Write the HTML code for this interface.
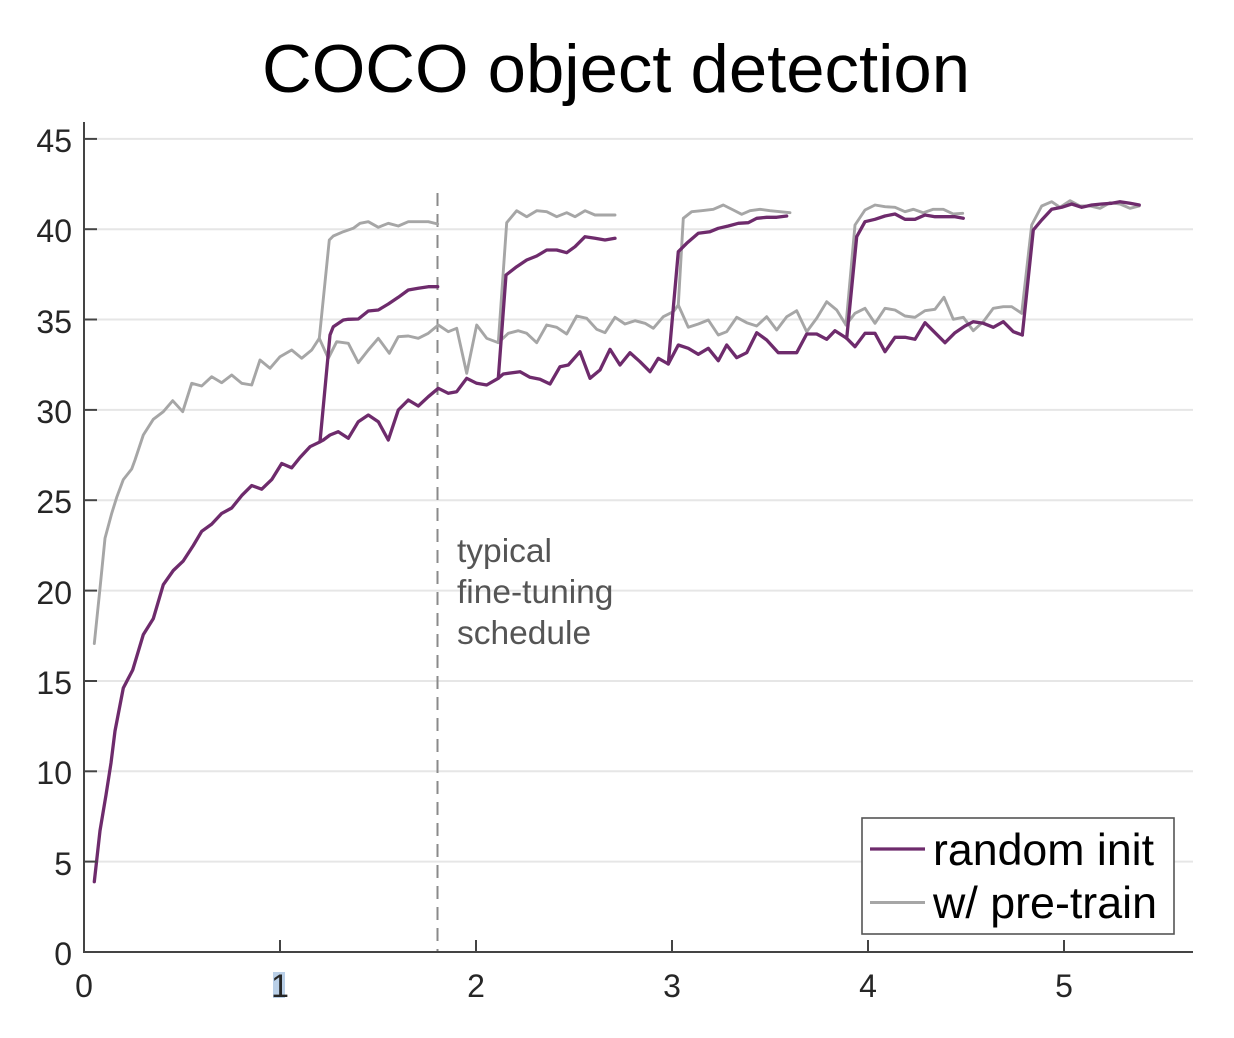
<!DOCTYPE html>
<html><head><meta charset="utf-8"><style>
html,body{margin:0;padding:0;background:#fff;}
svg{display:block;}
</style></head><body>
<svg width="1234" height="1038" viewBox="0 0 1234 1038" xmlns="http://www.w3.org/2000/svg" font-family="'Liberation Sans', Arial, sans-serif">
<rect width="1234" height="1038" fill="#fff"/>
<text x="616" y="92" font-size="68" text-anchor="middle" textLength="708" lengthAdjust="spacingAndGlyphs" fill="#000">COCO object detection</text>
<g stroke="#e6e6e6" stroke-width="2">
<line x1="97" y1="861.6" x2="1193" y2="861.6"/>
<line x1="97" y1="771.3" x2="1193" y2="771.3"/>
<line x1="97" y1="681" x2="1193" y2="681"/>
<line x1="97" y1="590.6" x2="1193" y2="590.6"/>
<line x1="97" y1="500.2" x2="1193" y2="500.2"/>
<line x1="97" y1="409.9" x2="1193" y2="409.9"/>
<line x1="97" y1="319.5" x2="1193" y2="319.5"/>
<line x1="97" y1="229.2" x2="1193" y2="229.2"/>
<line x1="97" y1="138.9" x2="1193" y2="138.9"/>
</g>
<line x1="437.5" y1="193" x2="437.5" y2="952" stroke="#8a8a8a" stroke-width="2" stroke-dasharray="13,8"/>
<g fill="#555" font-size="33.5">
<text x="457" y="562">typical</text>
<text x="457" y="603">fine-tuning</text>
<text x="457" y="644">schedule</text>
</g>
<g fill="none" stroke-linejoin="round" stroke-linecap="round">
<polyline stroke="#a6a6a6" stroke-width="2.9" points="94.3,643.6 100,588.3 105,538.3 111.7,513.4 116.7,497.4 123.3,479.6 131.7,469 135,460 143.3,435 153.3,419.3 163.3,411.7 172.7,400.7 182.7,411.7 191.7,383.3 201.7,386 211.7,376.7 221.7,382.7 231.7,375 241.7,383.3 251.7,385 260,360 270,368.3 280,356.7 291.7,350 301.7,358.3 311.7,350 319.3,338.3 328.3,358.3 336.7,341.7 348.3,343.3 358.3,362.7 368.3,350 378.3,338.3 389.3,353.3 398.3,336.7 408.3,336 418.3,338.3 428.3,333.3 438.3,325 448.3,331.7 456.7,328.3 466.7,373.3 476.7,325 486.7,338.3 498.3,342.7 508.3,333.3 518.3,330.7 526.7,333.3 536.7,342.7 546.7,325 556.7,327.3 566.7,334 576.7,316 586.7,318.3 596.7,329.3 605,332.7 615,317.3 625,324 635,320.7 645,323.3 653.3,328.3 663.3,316.7 673.3,311.7 678.3,305 688.3,327.3 698.3,324 708.3,320 718.3,335 726.7,331.7 736.7,317.3 746.7,322.7 756.7,326 766.7,316.7 776.7,330 786.7,316.7 796.7,310.7 806.7,331.7 816.7,318.3 826.7,301.7 836.7,310 846,325 855,313.3 865,308.3 875,323.3 885,308.3 895,310 905,316 915,317.3 925,310.7 935,309.3 944,297.3 953.3,319.3 963.3,317.3 973.3,330.7 983.3,321.7 993.3,308.3 1003.3,306.7 1011.7,306.7 1021.7,313.3"/>
<polyline stroke="#6e2b6c" stroke-width="3.3" points="94.3,881.7 100,830.7 106,795 111,763 115,731 123.3,688 132.7,670 143.3,634.6 153.3,618.6 163.3,584.7 173.3,570.5 183.3,560.9 193.3,545.5 201.7,531.3 211.7,524.1 221.7,513.4 231.7,508 241.7,495.6 251.7,485.6 261.7,489.2 271.7,479.6 281.7,463.5 291.7,467.8 300,457.5 310,446.7 318.3,442.7 323.3,440 330,435 338.3,431.7 348.3,438.3 358.3,421.7 368.3,415 378.3,421.7 388.3,440 398.3,410 408.3,400 418.3,406 428.3,396.7 438.3,388.3 448.3,393.3 456.7,391.7 466.7,378.3 476.7,383.3 486.7,385 498.3,378.3 503.3,374 520,371.7 530,377.3 540,379.3 550,384 560,366.7 568.3,365 580,351.7 590,378.3 600,370 610,349.3 620,365 630,352.7 640,361.7 650,371.7 658.3,358.3 668.3,364 678.3,345 688.3,348.3 698.3,354.3 708.3,348.3 718.3,360.7 726.7,345 736.7,357.7 746.7,352.7 756.7,332.7 766.7,340 778.3,352.7 796.7,352.7 806.7,334 816.7,334 826.7,339.3 835,330.7 846.7,338.3 855,346.7 865,333.3 875,333.3 885,351.7 895,337.3 905,337.3 915,339.3 925,322.7 935,332.7 945,342.7 955,332.7 965,326 973.3,321.7 983.3,323.3 993.3,327.3 1003.3,321.7 1013.3,331.7 1022.3,335"/>
<polyline stroke="#a6a6a6" stroke-width="2.9" points="319.3,338.3 329.3,240 333.3,236 343.3,231.7 353.3,228.3 360,223.3 368.3,221.7 378.3,227.3 388.3,223.3 398.3,226 408.3,221.7 418.3,221.7 428.3,221.7 437.7,224"/>
<polyline stroke="#a6a6a6" stroke-width="2.9" points="498.3,342.7 506.7,222.7 516.7,210.7 526.7,216.7 536.7,210.7 546.7,211.7 556.7,216.7 566.7,212.7 575,216.7 585,210.7 595,215 605,215 615,215"/>
<polyline stroke="#a6a6a6" stroke-width="2.9" points="678.3,305 683.3,218.3 691.7,211.7 701.7,210.7 713.3,209.3 723.3,205 733.3,210 741.7,214.3 750,210.7 760,209.3 770,210.7 780,211.7 790,212.7"/>
<polyline stroke="#a6a6a6" stroke-width="2.9" points="846,325 855,225 865,210 875,205 885,206.7 895,207.3 905,211.7 913.3,209.3 923.3,212.7 933.3,209.3 943.3,209.3 953.3,214 962.7,213.3"/>
<polyline stroke="#a6a6a6" stroke-width="2.9" points="1021.7,313.3 1031.7,225 1041.7,206 1051.7,201.7 1060,207.3 1070,200.7 1080,206 1090,206 1100,208.3 1110,202.7 1120,204 1130,208.3 1139.3,206"/>
<polyline stroke="#6e2b6c" stroke-width="3.3" points="320,441.7 330,335 333.3,326.7 343.3,320 348.3,319.3 358.3,319 368.3,311 378.3,310 388.3,304 398.3,297.3 408.3,290 418.3,288.3 428.3,286.7 437.7,286.7"/>
<polyline stroke="#6e2b6c" stroke-width="3.3" points="498.3,378.3 506,275 516.7,266.7 526.7,260 536.7,256 546.7,250 556.7,250 566.7,252.7 575,246.7 585,236.7 595,238.3 605,240 615,238.3"/>
<polyline stroke="#6e2b6c" stroke-width="3.3" points="668.3,364 678.3,251.7 686.7,243.3 698.3,233.3 710,231.7 718.3,228.3 728.3,226 738.3,223.3 748.3,222.7 756.7,218.3 766.7,217.3 776.7,217.3 786.7,216"/>
<polyline stroke="#6e2b6c" stroke-width="3.3" points="846.7,338.3 856.7,236.7 865,221.7 875,219.3 885,216 895,214 905,219.3 915,219.3 925,215 935,216.7 945,216.7 955,216.7 963.3,218.3"/>
<polyline stroke="#6e2b6c" stroke-width="3.3" points="1022.3,335 1033.3,230 1041.7,220 1051.7,209.3 1061.7,207.3 1071.7,204 1081.7,207.3 1091.7,205 1101.7,204 1111.7,203.3 1120,201.7 1130,203.3 1139.3,205"/>
</g>
<g stroke="#444" stroke-width="2">
<line x1="84" y1="122" x2="84" y2="953"/>
<line x1="83" y1="952" x2="1193" y2="952"/>
<line x1="84" y1="861.6" x2="97" y2="861.6"/>
<line x1="84" y1="771.3" x2="97" y2="771.3"/>
<line x1="84" y1="681" x2="97" y2="681"/>
<line x1="84" y1="590.6" x2="97" y2="590.6"/>
<line x1="84" y1="500.2" x2="97" y2="500.2"/>
<line x1="84" y1="409.9" x2="97" y2="409.9"/>
<line x1="84" y1="319.5" x2="97" y2="319.5"/>
<line x1="84" y1="229.2" x2="97" y2="229.2"/>
<line x1="84" y1="138.9" x2="97" y2="138.9"/>
<line x1="280" y1="952" x2="280" y2="940"/>
<line x1="476" y1="952" x2="476" y2="940"/>
<line x1="672" y1="952" x2="672" y2="940"/>
<line x1="868" y1="952" x2="868" y2="940"/>
<line x1="1064" y1="952" x2="1064" y2="940"/>
</g>
<g fill="#262626" font-size="32" text-anchor="end">
<text x="72" y="965">0</text>
<text x="72" y="875">5</text>
<text x="72" y="784">10</text>
<text x="72" y="694">15</text>
<text x="72" y="604">20</text>
<text x="72" y="513">25</text>
<text x="72" y="423">30</text>
<text x="72" y="333">35</text>
<text x="72" y="242">40</text>
<text x="72" y="152">45</text>
</g>
<rect x="273" y="972" width="12" height="26" fill="#b9cfe7"/>
<g fill="#262626" font-size="32" text-anchor="middle">
<text x="84" y="997">0</text>
<text x="280" y="997">1</text>
<text x="476" y="997">2</text>
<text x="672" y="997">3</text>
<text x="868" y="997">4</text>
<text x="1064" y="997">5</text>
</g>
<rect x="862" y="818" width="312" height="116" fill="#fff" stroke="#555" stroke-width="1.6"/>
<line x1="870" y1="849" x2="925" y2="849" stroke="#6e2b6c" stroke-width="3.3"/>
<line x1="870" y1="902.5" x2="925" y2="902.5" stroke="#a6a6a6" stroke-width="2.9"/>
<g fill="#000" font-size="44.7">
<text x="933" y="865" textLength="221" lengthAdjust="spacingAndGlyphs">random init</text>
<text x="933" y="918" textLength="224" lengthAdjust="spacingAndGlyphs">w/ pre-train</text>
</g>
</svg>
</body></html>
